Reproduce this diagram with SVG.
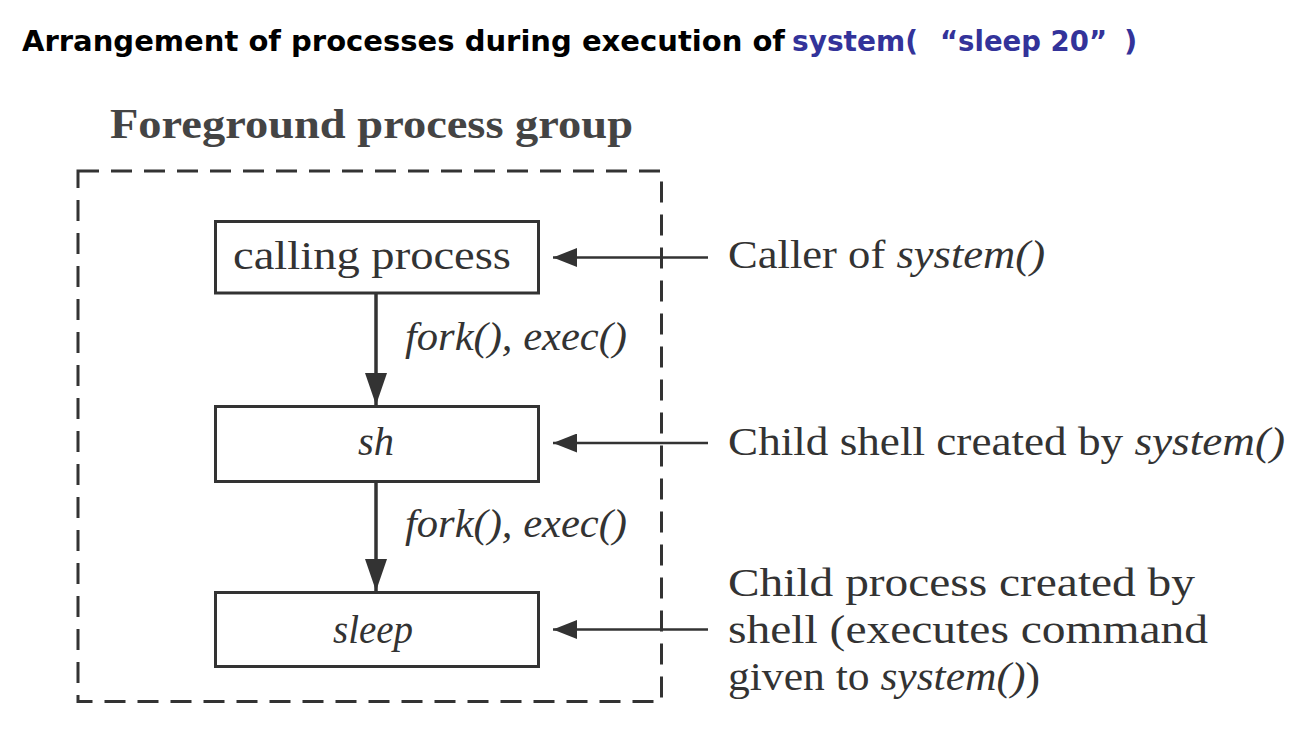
<svg xmlns="http://www.w3.org/2000/svg" width="1292" height="748" viewBox="0 0 1292 748">
<style>
.title{font-family:"DejaVu Sans","Liberation Sans",sans-serif;font-weight:bold;font-size:29px;fill:#000}
.blue{fill:#33339a}
.serif{font-family:"Liberation Serif",serif;font-size:40px;fill:#333}
.it{font-style:italic}
.grp{font-family:"Liberation Serif",serif;font-weight:bold;font-size:42px;fill:#444}
.box{fill:#fff;stroke:#333;stroke-width:3}
.dash{fill:none;stroke:#333;stroke-width:3;stroke-dasharray:21 12}
.vline{stroke:#333;stroke-width:3.5;fill:none}
.hline{stroke:#333;stroke-width:2.5;fill:none}
</style>
<defs>
<marker id="ahV" markerUnits="userSpaceOnUse" markerWidth="32" markerHeight="22" viewBox="0 0 32 22" refX="32" refY="11" orient="auto">
<path d="M0,0 L32,11 L0,22 Z" fill="#333"/>
</marker>
<marker id="ahH" markerUnits="userSpaceOnUse" markerWidth="24" markerHeight="19" viewBox="0 0 24 19" refX="24" refY="9.5" orient="auto">
<path d="M0,0 L24,9.5 L0,19 Z" fill="#333"/>
</marker>
</defs>
<rect width="1292" height="748" fill="#fff"/>
<g id="title">
<text class="title" x="22" y="51" textLength="763" lengthAdjust="spacingAndGlyphs">Arrangement of processes during execution of</text>
<text class="title blue" x="792" y="51" textLength="126" lengthAdjust="spacingAndGlyphs">system(</text>
<text class="title blue" x="940" y="51" textLength="167" lengthAdjust="spacingAndGlyphs">“sleep 20”</text>
<text class="title blue" x="1124" y="51">)</text>
</g>
<g id="group">
<text class="grp" x="110" y="138" textLength="523" lengthAdjust="spacingAndGlyphs">Foreground process group</text>
<rect class="dash" x="78" y="171" width="583.5" height="530.5"/>
</g>
<g id="connectors">
<line class="vline" x1="376" y1="293" x2="376" y2="405" marker-end="url(#ahV)"/>
<line class="vline" x1="376" y1="481" x2="376" y2="591" marker-end="url(#ahV)"/>
<line class="hline" x1="708" y1="257.5" x2="553" y2="257.5" marker-end="url(#ahH)"/>
<line class="hline" x1="708" y1="443" x2="553" y2="443" marker-end="url(#ahH)"/>
<line class="hline" x1="708" y1="629.5" x2="553" y2="629.5" marker-end="url(#ahH)"/>
<text class="serif it" x="405" y="350" font-size="37" textLength="222" lengthAdjust="spacingAndGlyphs">fork(), exec()</text>
<text class="serif it" x="405" y="537" font-size="37" textLength="222" lengthAdjust="spacingAndGlyphs">fork(), exec()</text>
</g>
<g id="calling">
<rect class="box" x="215.5" y="221.5" width="323" height="71.5"/>
<text class="serif" x="233" y="269" textLength="278" lengthAdjust="spacingAndGlyphs">calling process</text>
</g>
<g id="sh">
<rect class="box" x="215.5" y="406.5" width="323" height="75"/>
<text class="serif it" x="376" y="455" text-anchor="middle" textLength="36" lengthAdjust="spacingAndGlyphs">sh</text>
</g>
<g id="sleep">
<rect class="box" x="215.5" y="592.5" width="323" height="74"/>
<text class="serif it" x="373" y="643" text-anchor="middle" textLength="80" lengthAdjust="spacingAndGlyphs">sleep</text>
</g>
<g id="label-caller">
<text class="serif" x="728" y="268" textLength="317" lengthAdjust="spacingAndGlyphs">Caller of <tspan class="it">system()</tspan></text>
</g>
<g id="label-shell">
<text class="serif" x="728" y="455" textLength="557" lengthAdjust="spacingAndGlyphs">Child shell created by <tspan class="it">system()</tspan></text>
</g>
<g id="label-child">
<text class="serif" x="728" y="596" textLength="467" lengthAdjust="spacingAndGlyphs">Child process created by</text>
<text class="serif" x="728" y="643" textLength="480" lengthAdjust="spacingAndGlyphs">shell (executes command</text>
<text class="serif" x="728" y="690" textLength="312" lengthAdjust="spacingAndGlyphs">given to <tspan class="it">system()</tspan>)</text>
</g>
</svg>
